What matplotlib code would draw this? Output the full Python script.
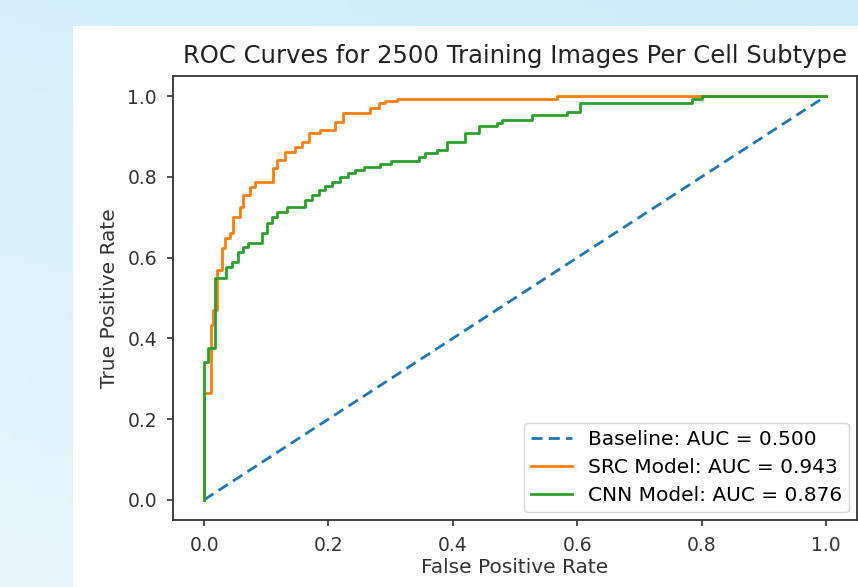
import numpy as np
import matplotlib
matplotlib.use("Agg")
import matplotlib.pyplot as plt
from matplotlib.patches import Rectangle

# ---- data ----
baseline_fpr = [0.0, 1.0]
baseline_tpr = [0.0, 1.0]

src_fpr = [0, 0, 0.011, 0.015, 0.020, 0.028, 0.034, 0.042, 0.047, 0.057, 0.062, 0.074,
           0.082, 0.111, 0.117, 0.130, 0.147, 0.157, 0.168, 0.187, 0.211, 0.224, 0.267,
           0.281, 0.291, 0.310, 0.568, 1.0]
src_tpr = [0, 0.265, 0.433, 0.47, 0.569, 0.624, 0.649, 0.661, 0.701, 0.726, 0.755, 0.776,
           0.788, 0.822, 0.842, 0.862, 0.875, 0.887, 0.908, 0.916, 0.936, 0.959, 0.970,
           0.983, 0.988, 0.994, 1.0, 1.0]

cnn_fpr = [0, 0, 0.007, 0.017, 0.036, 0.045, 0.055, 0.063, 0.071, 0.093, 0.101, 0.109,
           0.117, 0.133, 0.163, 0.173, 0.184, 0.195, 0.206, 0.219, 0.232, 0.243, 0.257,
           0.283, 0.300, 0.345, 0.356, 0.375, 0.391, 0.420, 0.442, 0.471, 0.479, 0.528,
           0.584, 0.605, 0.785, 0.801, 1.0]
cnn_tpr = [0, 0.342, 0.376, 0.549, 0.577, 0.590, 0.615, 0.627, 0.637, 0.660, 0.685, 0.700,
           0.714, 0.726, 0.743, 0.755, 0.767, 0.777, 0.788, 0.799, 0.809, 0.818, 0.824,
           0.833, 0.839, 0.850, 0.858, 0.866, 0.887, 0.908, 0.926, 0.934, 0.941, 0.953,
           0.961, 0.983, 0.993, 1.0, 1.0]

labels = ["Baseline: AUC = 0.500", "SRC Model: AUC = 0.943", "CNN Model: AUC = 0.876"]
title = "ROC Curves for 2500 Training Images Per Cell Subtype"
xlabel = "False Positive Rate"
ylabel = "True Positive Rate"
ticks = [0.0, 0.2, 0.4, 0.6, 0.8, 1.0]

W, H = 858, 587
fig = plt.figure(figsize=(W / 100, H / 100), dpi=100)

# background gradient
bg = fig.add_axes([0, 0, 1, 1], zorder=-10)
gx = np.linspace(0, 1, 64)
gy = np.linspace(0, 1, 64)
GX, GY = np.meshgrid(gx, gy)
top = np.array([0.80, 0.93, 0.98])
low = np.array([0.91, 0.965, 0.99])
t = np.clip(GY * 0.7 + (1 - GX) * 0.3, 0, 1)[..., None]
img = top * (1 - t) + low * t
bg.imshow(img, extent=[0, 1, 0, 1], aspect='auto', origin='upper')
bg.axis('off')
# white panel
x0 = 73 / W
y_top = (H - 26) / H
fig.patches.append(Rectangle((x0, 0), 1 - x0, y_top, transform=fig.transFigure,
                             facecolor='white', edgecolor='none', zorder=-5))

ax = fig.add_axes([173 / W, (H - 520) / H, (857 - 173) / W, (520 - 76) / H])
ax.plot(baseline_fpr, baseline_tpr, linestyle='--', color='#1f77b4', lw=2.0,
        dashes=(4, 2.2), label=labels[0])
ax.plot(src_fpr, src_tpr, color='#ff7f0e', lw=2.0, drawstyle='steps-post', label=labels[1])
ax.plot(cnn_fpr, cnn_tpr, color='#2ca02c', lw=2.0, drawstyle='steps-post', label=labels[2])

ax.set_xticks(ticks)
ax.set_yticks(ticks)
ax.tick_params(labelsize=13.5, length=4.5, width=1.2, pad=7, colors='#333333')
for s in ax.spines.values():
    s.set_linewidth(1.3)
    s.set_color('#333333')
ax.set_title(title, fontsize=17.5, color='#222222', pad=9)
ax.set_xlabel(xlabel, fontsize=14.5, color='#333333', labelpad=2)
ax.set_ylabel(ylabel, fontsize=14.5, color='#333333', labelpad=6)
ax.legend(loc='lower right', fontsize=14.5, handlelength=2.0, borderpad=0.35,
          labelspacing=0.45, borderaxespad=0.4)

fig.savefig("out.png", dpi=100)
